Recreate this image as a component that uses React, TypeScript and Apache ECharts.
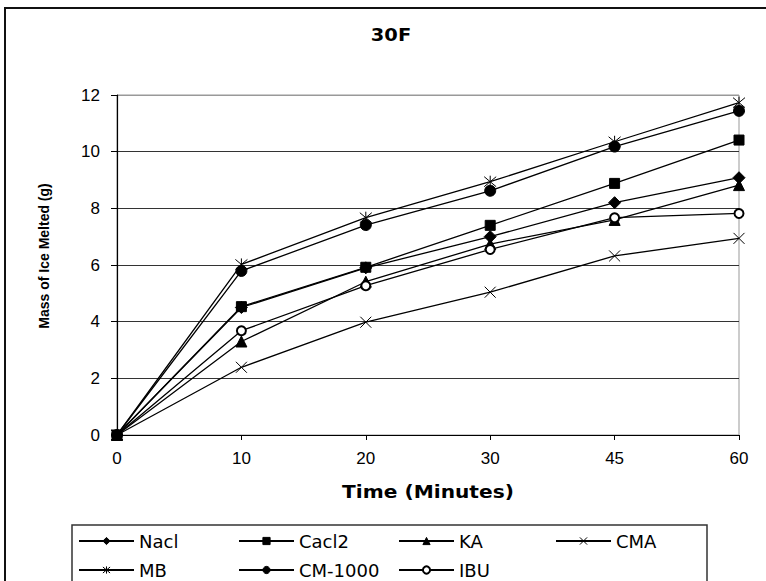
import React, { useEffect, useRef } from "react";
import * as echarts from "echarts";

const categories = ["0", "10", "20", "30", "45", "60"];
const seriesNames = ["Nacl", "Cacl2", "KA", "CMA", "MB", "CM-1000", "IBU"];
const nacl = [0, 4.5, 5.9, 7.0, 8.2, 9.08];
const cacl2 = [0, 4.53, 5.92, 7.4, 8.88, 10.41];
const ka = [0, 3.3, 5.41, 6.74, 7.59, 8.82];
const cma = [0, 2.39, 3.98, 5.04, 6.32, 6.94];
const mb = [0, 6.02, 7.67, 8.94, 10.35, 11.73];
const cm1000 = [0, 5.79, 7.41, 8.62, 10.18, 11.44];
const ibu = [0, 3.68, 5.27, 6.55, 7.67, 7.82];
const yTicks = { min: 0, max: 12, interval: 2 };

const FONT = 'Arial, "Liberation Sans", sans-serif';
const WIDE = '"DejaVu Sans", Verdana, sans-serif';
const CROSS = "path://M0,0L10,10M10,0L0,10";
const STAR = "path://M0,0L10,10M10,0L0,10M5,-1L5,11";

export default function App() {
  const ref = useRef<HTMLDivElement>(null);
  useEffect(() => {
    if (!ref.current) return;
    const chart = echarts.init(ref.current, null, { renderer: "svg" });
    const values = [nacl, cacl2, ka, cma, mb, cm1000, ibu];
    const symbols = ["diamond", "rect", "triangle", CROSS, STAR, "circle", "emptyCircle"];
    const sizes = [12, 10, 11, 11, 12, 11, 9];
    const legendPos = [
      [78, 531], [238, 531], [398, 531], [555, 531],
      [78, 560], [238, 560], [398, 560],
    ];
    const series = seriesNames.map((name, i) => ({
      name,
      type: "line",
      data: values[i],
      symbol: symbols[i],
      symbolSize: sizes[i],
      z: name === "Cacl2" ? 4 : 2,
      lineStyle: { color: "#000", width: 1.3 },
      itemStyle: { color: "#000", borderColor: "#000", borderWidth: 1 },
    }));
    chart.setOption({
      animation: false,
      backgroundColor: "#fff",
      textStyle: { fontFamily: FONT },
      grid: {
        left: 117,
        right: 27,
        top: 95,
        bottom: 146,
        show: true,
        borderColor: "#999",
        borderWidth: 1,
      },
      xAxis: {
        type: "category",
        data: categories,
        boundaryGap: false,
        axisLine: { lineStyle: { color: "#000", width: 1.2 } },
        axisTick: { show: true, length: 5, lineStyle: { color: "#000" } },
        axisLabel: { color: "#000", fontSize: 17, margin: 15, fontFamily: FONT },
        splitLine: { show: false },
      },
      yAxis: {
        type: "value",
        min: yTicks.min,
        max: yTicks.max,
        interval: yTicks.interval,
        axisLine: { show: true, lineStyle: { color: "#000", width: 1.2 } },
        axisTick: { show: true, length: 6, lineStyle: { color: "#000" } },
        axisLabel: { color: "#000", fontSize: 17, margin: 17, fontFamily: FONT },
        splitLine: {
          show: true,
          lineStyle: {
            color: ["#333", "#333", "#333", "#333", "#333", "#333", "#999"],
            width: 1,
          },
        },
      },
      legend: seriesNames.map((name, i) => ({
        data: [name],
        left: legendPos[i][0],
        top: legendPos[i][1],
        padding: 0,
        itemWidth: 55,
        itemHeight: 9,
        itemStyle: { borderWidth: 1 },
        textStyle: { color: "#000", fontSize: 18, fontFamily: WIDE, lineHeight: 20 },
        selectedMode: false,
      })),
      graphic: [
        {
          type: "rect",
          shape: { x: 5, y: 8, width: 800, height: 620 },
          style: { fill: "none", stroke: "#111", lineWidth: 2 },
          silent: true,
        },
        {
          type: "rect",
          shape: { x: 72, y: 525, width: 635, height: 80 },
          style: { fill: "none", stroke: "#333", lineWidth: 1.5 },
          silent: true,
        },
        {
          type: "text",
          x: 391,
          y: 35,
          scaleX: 1.08,
          style: {
            text: "30F",
            font: `bold 18px ${WIDE}`,
            fill: "#000",
            align: "center",
            verticalAlign: "middle",
          },
        },
        {
          type: "text",
          x: 428,
          y: 492,
          scaleX: 1.12,
          style: {
            text: "Time (Minutes)",
            font: `bold 18px ${WIDE}`,
            fill: "#000",
            align: "center",
            verticalAlign: "middle",
          },
        },
        {
          type: "text",
          x: 44,
          y: 256,
          rotation: Math.PI / 2,
          style: {
            text: "Mass of Ice Melted (g)",
            font: `bold 14px ${FONT}`,
            fill: "#000",
            align: "center",
            verticalAlign: "middle",
          },
        },
      ],
      series,
    });
    return () => chart.dispose();
  }, []);
  return (
    <div
      ref={ref}
      style={{ position: "fixed", left: 0, top: 0, width: 766, height: 581 }}
    />
  );
}
